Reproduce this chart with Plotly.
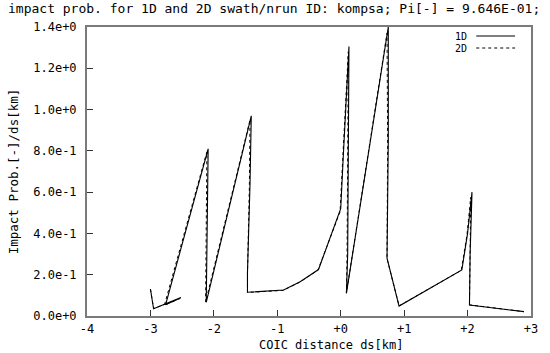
import plotly.graph_objects as go

# ---- data ----
x_1d = [-3.00, -2.95, -2.52, -2.76, -2.09, -2.12, -2.12, -1.41, -1.43, -1.47, -1.47,
        -0.90, -0.64, -0.35, 0.00, 0.04, 0.13, 0.11, 0.09, 0.75, 0.75, 0.73, 0.92,
        1.91, 2.00, 2.07, 2.04, 2.03, 2.89]
y_1d = [0.130, 0.035, 0.090, 0.055, 0.810, 0.255, 0.066, 0.970, 0.640, 0.210, 0.115,
        0.126, 0.166, 0.225, 0.520, 0.770, 1.305, 0.300, 0.110, 1.400, 0.850, 0.280, 0.048,
        0.223, 0.400, 0.600, 0.300, 0.053, 0.021]

x_2d = [-3.00, -2.95, -2.53, -2.78, -2.11, -2.13, -2.13, -1.43, -1.44, -1.47, -1.47,
        -0.91, -0.65, -0.36, -0.01, 0.03, 0.12, 0.10, 0.09, 0.73, 0.74, 0.73, 0.92,
        1.90, 1.99, 2.05, 2.04, 2.03, 2.89]
y_2d = [0.130, 0.036, 0.085, 0.052, 0.795, 0.250, 0.068, 0.950, 0.630, 0.205, 0.114,
        0.124, 0.163, 0.222, 0.505, 0.750, 1.280, 0.295, 0.112, 1.370, 0.830, 0.278, 0.049,
        0.221, 0.390, 0.575, 0.295, 0.054, 0.021]

x_ticks = [-4, -3, -2, -1, 0, 1, 2, 3]
x_tick_text = ["-4", "-3", "-2", "-1", "+0", "+1", "+2", "+3"]
y_ticks = [0.0, 0.2, 0.4, 0.6, 0.8, 1.0, 1.2, 1.4]
y_tick_text = ["0.0e+0", "2.0e-1", "4.0e-1", "6.0e-1", "8.0e-1", "1.0e+0", "1.2e+0", "1.4e+0"]

FONT = "DejaVu Sans Mono"

fig = go.Figure()
fig.add_trace(go.Scatter(x=x_1d, y=y_1d, mode="lines", name="1D",
                         line=dict(color="black", width=1.1)))
fig.add_trace(go.Scatter(x=x_2d, y=y_2d, mode="lines", name="2D",
                         line=dict(color="black", width=1, dash="dot")))

axis_common = dict(showgrid=False, zeroline=False, showline=True, mirror=True,
                   linecolor="#7a7a7a", linewidth=2, ticks="inside", ticklen=6,
                   tickcolor="#333333", tickwidth=1,
                   tickfont=dict(family=FONT, size=12, color="black"))

fig.update_layout(
    width=550, height=353,
    margin=dict(l=86, r=18, t=27, b=37),
    paper_bgcolor="white", plot_bgcolor="white",
    showlegend=False,
    font=dict(family=FONT, color="black"),
    title=dict(text="impact prob. for 1D and 2D swath/nrun ID: kompsa; Pi[-] = 9.646E-01;",
               x=8/550, xanchor="left", xref="container",
               y=1 - 8/353, yanchor="middle", yref="container",
               font=dict(family=FONT, size=13, color="black")),
    xaxis=dict(range=[-4, 3], tickvals=x_ticks, ticktext=x_tick_text,
               ticklabelstandoff=1,
               **axis_common),
    yaxis=dict(range=[0, 1.4], tickvals=y_ticks, ticktext=y_tick_text,
               ticklabelstandoff=6,
               title=dict(text="Impact Prob.[-]/ds[km]", standoff=12,
                          font=dict(family=FONT, size=12.5)),
               **axis_common),
)

# x-axis title (offset right of plot centre, as in the reference)
fig.add_annotation(text="COIC distance ds[km]", xref="paper", yref="paper",
                   x=(332-86)/446, y=(316-345)/289, xanchor="center", yanchor="middle",
                   showarrow=False, font=dict(family=FONT, size=12, color="black"))

# legend drawn as text + sample lines (text left of line as in reference)
fig.add_annotation(text="1D", xref="paper", yref="paper", x=(470-86)/446, y=(316-36)/289,
                   xanchor="right", yanchor="middle", showarrow=False,
                   font=dict(family=FONT, size=10, color="black"))
fig.add_annotation(text="2D", xref="paper", yref="paper", x=(470-86)/446, y=(316-48)/289,
                   xanchor="right", yanchor="middle", showarrow=False,
                   font=dict(family=FONT, size=10, color="black"))
fig.add_shape(type="line", xref="paper", yref="paper",
              x0=(477-86)/446, x1=(516-86)/446, y0=(316-36)/289, y1=(316-36)/289,
              line=dict(color="black", width=1.1))
fig.add_shape(type="line", xref="paper", yref="paper",
              x0=(477-86)/446, x1=(516-86)/446, y0=(316-48)/289, y1=(316-48)/289,
              line=dict(color="black", width=1, dash="dot"))

fig.write_html("out.html")
